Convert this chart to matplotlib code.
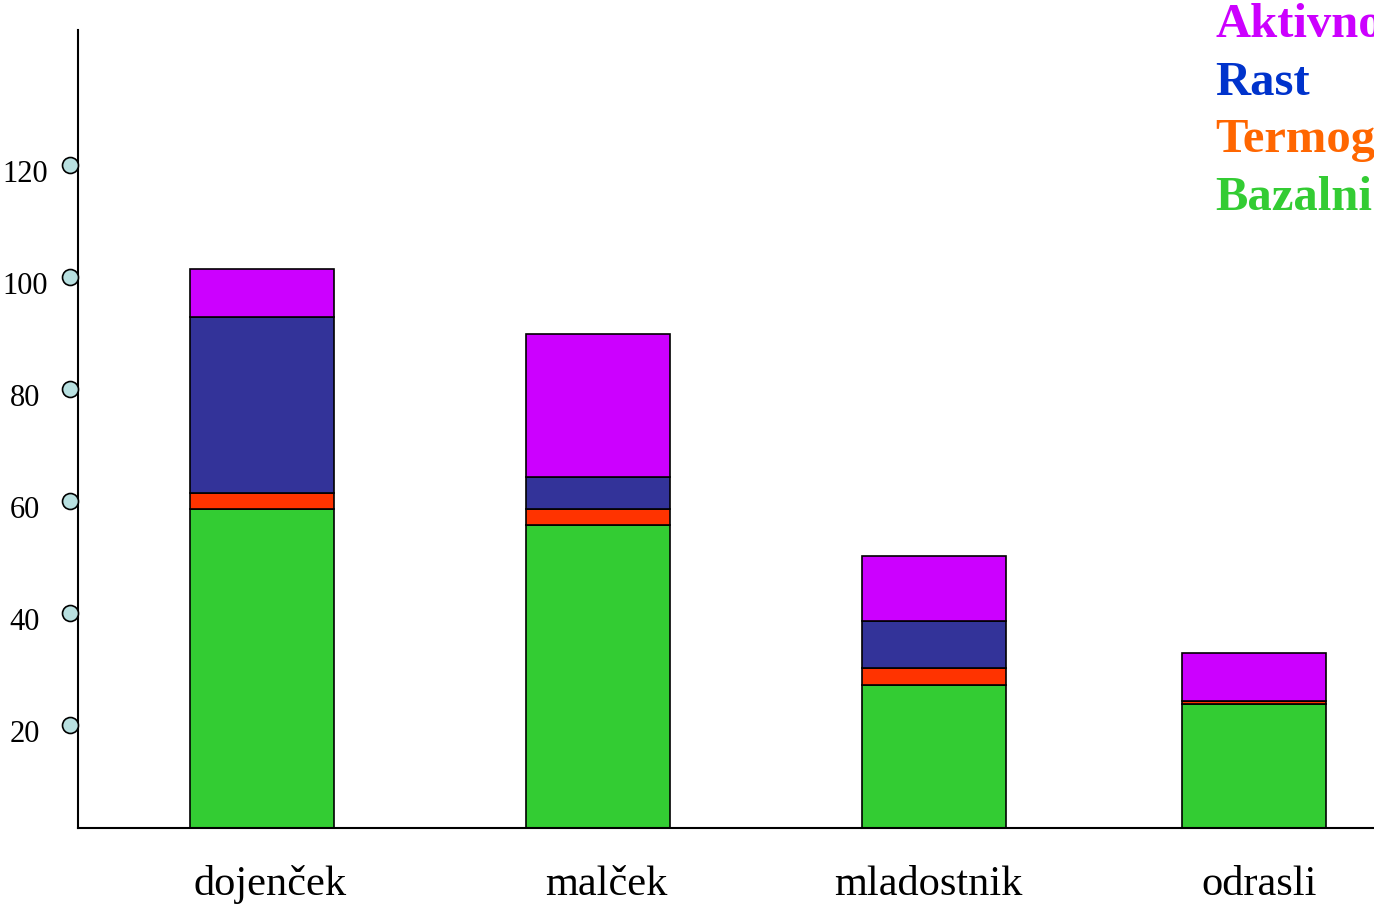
import numpy as np
import matplotlib
matplotlib.use("Agg")
import matplotlib.pyplot as plt
import matplotlib.transforms as mtransforms

plt.rcParams['font.family'] = ['Liberation Serif', 'DejaVu Serif']

# Data
categories = ['dojenček', 'malček', 'mladostnik', 'odrasli']
bazalni = [58.6, 55.7, 27.2, 23.7]
termog = [2.8, 2.9, 2.9, 0.6]
rast = [31.5, 5.7, 8.5, 0.0]
aktivno = [8.5, 25.6, 11.5, 8.6]

series_names = ['Aktivno', 'Rast', 'Termog', 'Bazalni']
label_colors = ['#CC00FF', '#0033CC', '#FF6600', '#33CC33']
bar_colors = {'Bazalni': '#33CC33', 'Termog': '#FF3300', 'Rast': '#333399', 'Aktivno': '#CC00FF'}
y_ticks = [20, 40, 60, 80, 100, 120]

# layout (bar centres and label centres in bar-spacing units)
bar_pos = [0.0, 1.0, 2.0, 2.952]
label_pos = [0.024, 1.024, 1.982, 2.967]
bar_w = 0.4286

W, H = 1374, 907
fig = plt.figure(figsize=(W / 100, H / 100), dpi=100)
ax = fig.add_axes([78 / W, (H - 828) / H, 1 - 78 / W, (828 - 30) / H])

bottom = np.zeros(len(categories))
for name, vals in [('Bazalni', bazalni), ('Termog', termog), ('Rast', rast), ('Aktivno', aktivno)]:
    vals = np.array(vals)
    ax.bar(bar_pos, vals, width=bar_w, bottom=bottom, color=bar_colors[name],
           edgecolor='black', linewidth=1.2, zorder=2)
    bottom += vals

ax.set_xlim(-0.5476, 3.3095)
ax.set_ylim(1.6, 144.1)

for s in ['top', 'right']:
    ax.spines[s].set_visible(False)
for s in ['left', 'bottom']:
    ax.spines[s].set_linewidth(1.5)
    ax.spines[s].set_zorder(3)
ax.set_xticks([])
ax.set_yticks([])

# y tick markers (circles) and labels
trans = mtransforms.blended_transform_factory(ax.transAxes, ax.transData)
ax.plot([-8 / 1296] * len(y_ticks), y_ticks, 'o', transform=trans, clip_on=False,
        markersize=11.5, markerfacecolor='#B8E0E0', markeredgecolor='black',
        markeredgewidth=1.2, zorder=4)
lab_trans = mtransforms.offset_copy(trans, fig=fig, x=0, y=-17, units='dots')
for t in y_ticks:
    ax.text(-53 / 1296, t, str(t), transform=lab_trans, ha='center', va='baseline',
            fontsize=22, color='black')

# category labels
xtrans = mtransforms.blended_transform_factory(ax.transData, fig.transFigure)
for p, c in zip(label_pos, categories):
    ax.text(p, 1 - 895 / H, c, transform=xtrans, ha='center', va='baseline',
            fontsize=30.5, color='black')

# legend-like labels, top right (cut off by the figure edge, as in the original)
baselines = [37, 95, 152, 210]
for name, col, b in zip(series_names, label_colors, baselines):
    fig.text(1215 / W, 1 - b / H, name, color=col, fontsize=35, fontweight='bold',
             ha='left', va='baseline')

fig.savefig('out.png', dpi=100)
